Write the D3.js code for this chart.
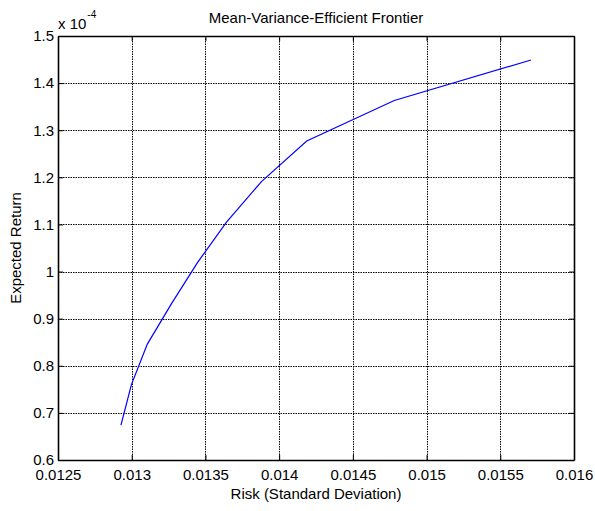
<!DOCTYPE html>
<html>
<head>
<meta charset="utf-8">
<script src="https://cdn.jsdelivr.net/npm/d3@7"></script>
<style>
  html, body { margin: 0; padding: 0; background: #fff; }
  text { font-family: Arial, "Liberation Sans", sans-serif; fill: #000; }
</style>
</head>
<body>
<svg id="chart" width="595" height="511"></svg>
<script>
// frontier points (risk = std dev, return)
const risk = [0.012927, 0.012998, 0.013106, 0.013270, 0.013446, 0.013643, 0.013880, 0.014187, 0.014781, 0.015708]
const expReturn = [0.674e-4, 0.760e-4, 0.846e-4, 0.932e-4, 1.019e-4, 1.105e-4, 1.191e-4, 1.277e-4, 1.363e-4, 1.449e-4]

const xTicks = [0.0125, 0.013, 0.0135, 0.014, 0.0145, 0.015, 0.0155, 0.016]
const yTicks = [0.6e-4, 0.7e-4, 0.8e-4, 0.9e-4, 1.0e-4, 1.1e-4, 1.2e-4, 1.3e-4, 1.4e-4, 1.5e-4]

const margin = { left: 58, right: 21, top: 36, bottom: 51 }
const width = 595
const height = 511
const fontSize = '15px'

const svg = d3.select('#chart')

const x = d3.scaleLinear()
  .domain([0.0125, 0.016])
  .range([margin.left, width - margin.right])

const y = d3.scaleLinear()
  .domain([0.6e-4, 1.5e-4])
  .range([height - margin.bottom, margin.top])

const [x0, x1] = x.range()
const [y0, y1] = y.range()

// grid (dotted)
const grid = svg.append('g')
  .attr('stroke', '#000')
  .attr('stroke-width', 1)
  .attr('stroke-dasharray', '1.5,1')
grid.selectAll('.gx')
  .data(xTicks.slice(1, -1))
  .enter().append('line')
  .attr('x1', d => Math.round(x(d)) + 0.5)
  .attr('x2', d => Math.round(x(d)) + 0.5)
  .attr('y1', y1)
  .attr('y2', y0)
grid.selectAll('.gy')
  .data(yTicks.slice(1, -1))
  .enter().append('line')
  .attr('y1', d => Math.round(y(d)) + 0.5)
  .attr('y2', d => Math.round(y(d)) + 0.5)
  .attr('x1', x0)
  .attr('x2', x1)

// frontier line
const line = d3.line()
  .x((d, i) => x(risk[i]))
  .y(d => y(d))

svg.append('path')
  .datum(expReturn)
  .attr('d', line)
  .attr('fill', 'none')
  .attr('stroke', '#0000ff')
  .attr('stroke-width', 1.2)

// axes: matlab-ish box with inward ticks
const tickLen = 5
const axes = svg.append('g')

axes.append('g')
  .attr('transform', `translate(0,${y0})`)
  .call(d3.axisBottom(x).tickValues(xTicks).tickSizeInner(-tickLen).tickSizeOuter(0).tickPadding(9)
    .tickFormat(d => String(+d.toFixed(4))))
axes.append('g')
  .attr('transform', `translate(0,${y1})`)
  .call(d3.axisTop(x).tickValues(xTicks).tickSizeInner(-tickLen).tickSizeOuter(0).tickFormat(''))
axes.append('g')
  .attr('transform', `translate(${x0},0)`)
  .call(d3.axisLeft(y).tickValues(yTicks).tickSizeInner(-tickLen).tickSizeOuter(0).tickPadding(4)
    .tickFormat(d => String(+(d * 1e4).toFixed(1))))
axes.append('g')
  .attr('transform', `translate(${x1},0)`)
  .call(d3.axisRight(y).tickValues(yTicks).tickSizeInner(-tickLen).tickSizeOuter(0).tickFormat(''))

axes.selectAll('.domain').attr('stroke', '#000').attr('stroke-width', 1.6)
axes.selectAll('.tick line').attr('stroke', '#000').attr('stroke-width', 1)
axes.selectAll('.tick text')
  .style('font-size', fontSize)
  .style('font-family', 'Arial, "Liberation Sans", sans-serif')
  .attr('fill', '#000')

// exponent label
const expo = svg.append('text')
  .attr('x', x0)
  .attr('y', 29)
  .style('font-size', fontSize)
expo.append('tspan').text('x 10')
expo.append('tspan')
  .attr('dy', -11)
  .attr('dx', 1)
  .style('font-size', '10px')
  .text('-4')

// title
svg.append('text')
  .attr('x', (x0 + x1) / 2)
  .attr('y', 23)
  .attr('text-anchor', 'middle')
  .style('font-size', fontSize)
  .text('Mean-Variance-Efficient Frontier')

// axis labels
svg.append('text')
  .attr('x', (x0 + x1) / 2)
  .attr('y', 499)
  .attr('text-anchor', 'middle')
  .style('font-size', fontSize)
  .text('Risk (Standard Deviation)')

svg.append('text')
  .attr('transform', `translate(21,${(y0 + y1) / 2}) rotate(-90)`)
  .attr('text-anchor', 'middle')
  .style('font-size', fontSize)
  .text('Expected Return')
</script>
</body>
</html>
